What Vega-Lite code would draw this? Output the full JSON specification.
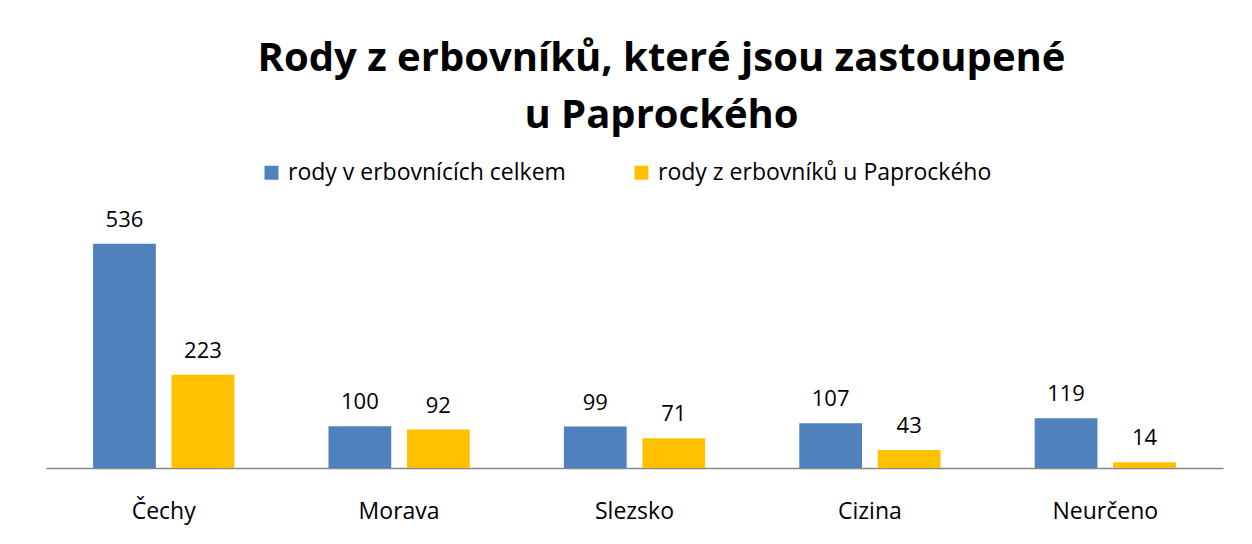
{
  "$schema": "https://vega.github.io/schema/vega-lite/v6.json",
  "width": 1177,
  "height": 251,
  "autosize": {"type": "none"},
  "padding": {"left": 46, "top": 217, "right": 29, "bottom": 76},
  "background": "white",
  "title": {
    "text": ["Rody z erbovníků, které jsou zastoupené", "u Paprockého"],
    "font": "Open Sans",
    "fontSize": 40,
    "fontWeight": "bold",
    "color": "black",
    "lineHeight": 57,
    "anchor": "middle",
    "dx": 27,
    "offset": 25
  },
  "data": {
    "values": [
      {"region": "Čechy", "series": "rody v erbovnících celkem", "value": 536},
      {"region": "Čechy", "series": "rody z erbovníků u Paprockého", "value": 223},
      {"region": "Morava", "series": "rody v erbovnících celkem", "value": 100},
      {"region": "Morava", "series": "rody z erbovníků u Paprockého", "value": 92},
      {"region": "Slezsko", "series": "rody v erbovnících celkem", "value": 99},
      {"region": "Slezsko", "series": "rody z erbovníků u Paprockého", "value": 71},
      {"region": "Cizina", "series": "rody v erbovnících celkem", "value": 107},
      {"region": "Cizina", "series": "rody z erbovníků u Paprockého", "value": 43},
      {"region": "Neurčeno", "series": "rody v erbovnících celkem", "value": 119},
      {"region": "Neurčeno", "series": "rody z erbovníků u Paprockého", "value": 14}
    ]
  },
  "encoding": {
    "x": {
      "field": "region",
      "type": "nominal",
      "sort": ["Čechy", "Morava", "Slezsko", "Cizina", "Neurčeno"],
      "scale": {"paddingInner": 0.4, "paddingOuter": 0.2},
      "axis": {
        "title": null,
        "labelAngle": 0,
        "ticks": false,
        "grid": false,
        "domainColor": "#868686",
        "domainWidth": 1.5,
        "labelFont": "Open Sans",
        "labelFontSize": 23,
        "labelColor": "black",
        "labelPadding": 32
      }
    },
    "xOffset": {
      "field": "series",
      "type": "nominal",
      "sort": ["rody v erbovnících celkem", "rody z erbovníků u Paprockého"],
      "scale": {"paddingInner": 0.2, "paddingOuter": 0}
    },
    "y": {
      "field": "value",
      "type": "quantitative",
      "scale": {"domain": [0, 600]},
      "axis": null
    },
    "color": {
      "field": "series",
      "type": "nominal",
      "sort": ["rody v erbovnících celkem", "rody z erbovníků u Paprockého"],
      "scale": {"range": ["#4F81BD", "#FFC000"]},
      "legend": {
        "title": null,
        "orient": "none",
        "legendX": 214,
        "legendY": -56,
        "direction": "horizontal",
        "symbolType": "square",
        "symbolSize": 196,
        "symbolStrokeWidth": 0,
        "labelFont": "Open Sans",
        "labelFontSize": 23,
        "labelColor": "black",
        "labelOffset": 5,
        "columnPadding": 64,
        "labelLimit": 500,
        "padding": 0
      }
    }
  },
  "layer": [
    {"mark": {"type": "bar"}},
    {
      "mark": {
        "type": "text",
        "dy": -17,
        "baseline": "alphabetic",
        "font": "Open Sans",
        "fontSize": 22
      },
      "encoding": {
        "text": {"field": "value", "type": "quantitative"},
        "color": {"value": "black"}
      }
    }
  ],
  "config": {"view": {"stroke": null}}
}
